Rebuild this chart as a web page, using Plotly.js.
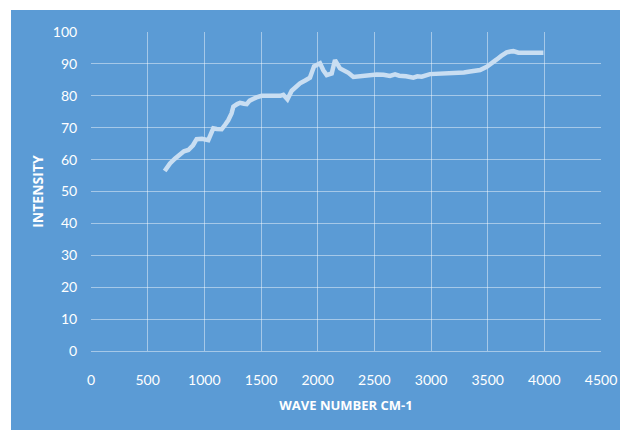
<!DOCTYPE html>
<html>
<head>
<meta charset="utf-8">
<script src="https://cdn.plot.ly/plotly-3.0.1.min.js"></script>
<style>
html,body{margin:0;padding:0;background:#ffffff;}
#chart{position:absolute;left:11px;top:10px;width:609px;height:420px;}
</style>
</head>
<body>
<div id="chart"></div>
<script>
var waveNumber = [650, 697, 740, 785, 820, 859, 900, 932, 980, 1035, 1060, 1079, 1110, 1153, 1185, 1212, 1240, 1256, 1290, 1315, 1350, 1374, 1400, 1418, 1460, 1506, 1560, 1600, 1638, 1670, 1697, 1733, 1771, 1810, 1844, 1890, 1932, 1950, 1968, 1995, 2021, 2050, 2080, 2124, 2153, 2197, 2230, 2271, 2315, 2360, 2420, 2462, 2521, 2580, 2638, 2683, 2720, 2780, 2844, 2880, 2918, 2991, 3060, 3139, 3227, 3290, 3344, 3400, 3433, 3492, 3540, 3580, 3620, 3668, 3700, 3727, 3771, 3850, 3920, 3992];
var intensity = [56.4, 58.8, 60.3, 61.4, 62.6, 63, 64.5, 66.4, 66.5, 66.1, 67.8, 69.8, 69.6, 69.5, 71, 72.4, 74.5, 76.6, 77.4, 77.8, 77.5, 77.4, 78.5, 78.9, 79.5, 80, 80, 79.8, 79.7, 80, 80.3, 78.9, 81.6, 82.8, 83.9, 84.8, 85.7, 87.5, 89.2, 89.7, 90.2, 88, 86.5, 87, 91.2, 88.6, 88, 87.2, 85.9, 86.1, 86.2, 86.5, 86.7, 86.6, 86.2, 86.7, 86.3, 86.1, 85.7, 86.1, 86, 86.8, 86.9, 87, 87, 87.3, 87.6, 87.8, 88.1, 89.1, 90.2, 91.4, 92.5, 93.6, 93.9, 94, 93.5, 93.5, 93.5, 93.5];
var xTicks = [0, 500, 1000, 1500, 2000, 2500, 3000, 3500, 4000, 4500];
var yTicks = [0, 10, 20, 30, 40, 50, 60, 70, 80, 90, 100];

var fontFam = 'Lato, "Open Sans", "DejaVu Sans Condensed", sans-serif';
var titleFam = '"Open Sans", Lato, sans-serif';

var trace = {
  x: waveNumber,
  y: intensity,
  type: 'scatter',
  mode: 'lines',
  line: {color: '#c9def2', width: 4.5, shape: 'linear'},
  hoverinfo: 'skip'
};

var layout = {
  width: 609,
  height: 420,
  paper_bgcolor: '#5b9bd5',
  plot_bgcolor: '#5b9bd5',
  margin: {l: 80, r: 19, t: 22, b: 79},
  showlegend: false,
  font: {family: fontFam, color: '#ffffff', size: 14},
  xaxis: {
    range: [0, 4500],
    tickvals: xTicks,
    ticktext: xTicks.map(String),
    showgrid: true,
    gridcolor: 'rgba(255,255,255,0.45)',
    gridwidth: 1,
    zeroline: false,
    showline: true,
    linecolor: 'rgba(255,255,255,0.45)',
    ticks: 'outside',
    ticklen: 16,
    tickcolor: 'rgba(0,0,0,0)',
    tickfont: {family: fontFam, color: '#ffffff', size: 14},
    title: {text: '<b>WAVE NUMBER CM-1</b>', font: {family: titleFam, color: '#ffffff', size: 13}, standoff: 14}
  },
  yaxis: {
    range: [0, 100],
    tickvals: yTicks,
    ticktext: yTicks.map(String),
    showgrid: true,
    gridcolor: 'rgba(255,255,255,0.45)',
    gridwidth: 1,
    zeroline: false,
    showline: false,
    ticks: 'outside',
    ticklen: 10,
    tickcolor: 'rgba(0,0,0,0)',
    tickfont: {family: fontFam, color: '#ffffff', size: 14},
    title: {text: '<b>INTENSITY</b>', font: {family: titleFam, color: '#ffffff', size: 14}, standoff: 5}
  }
};

Plotly.newPlot('chart', [trace], layout, {displayModeBar: false, staticPlot: true});
</script>
</body>
</html>
